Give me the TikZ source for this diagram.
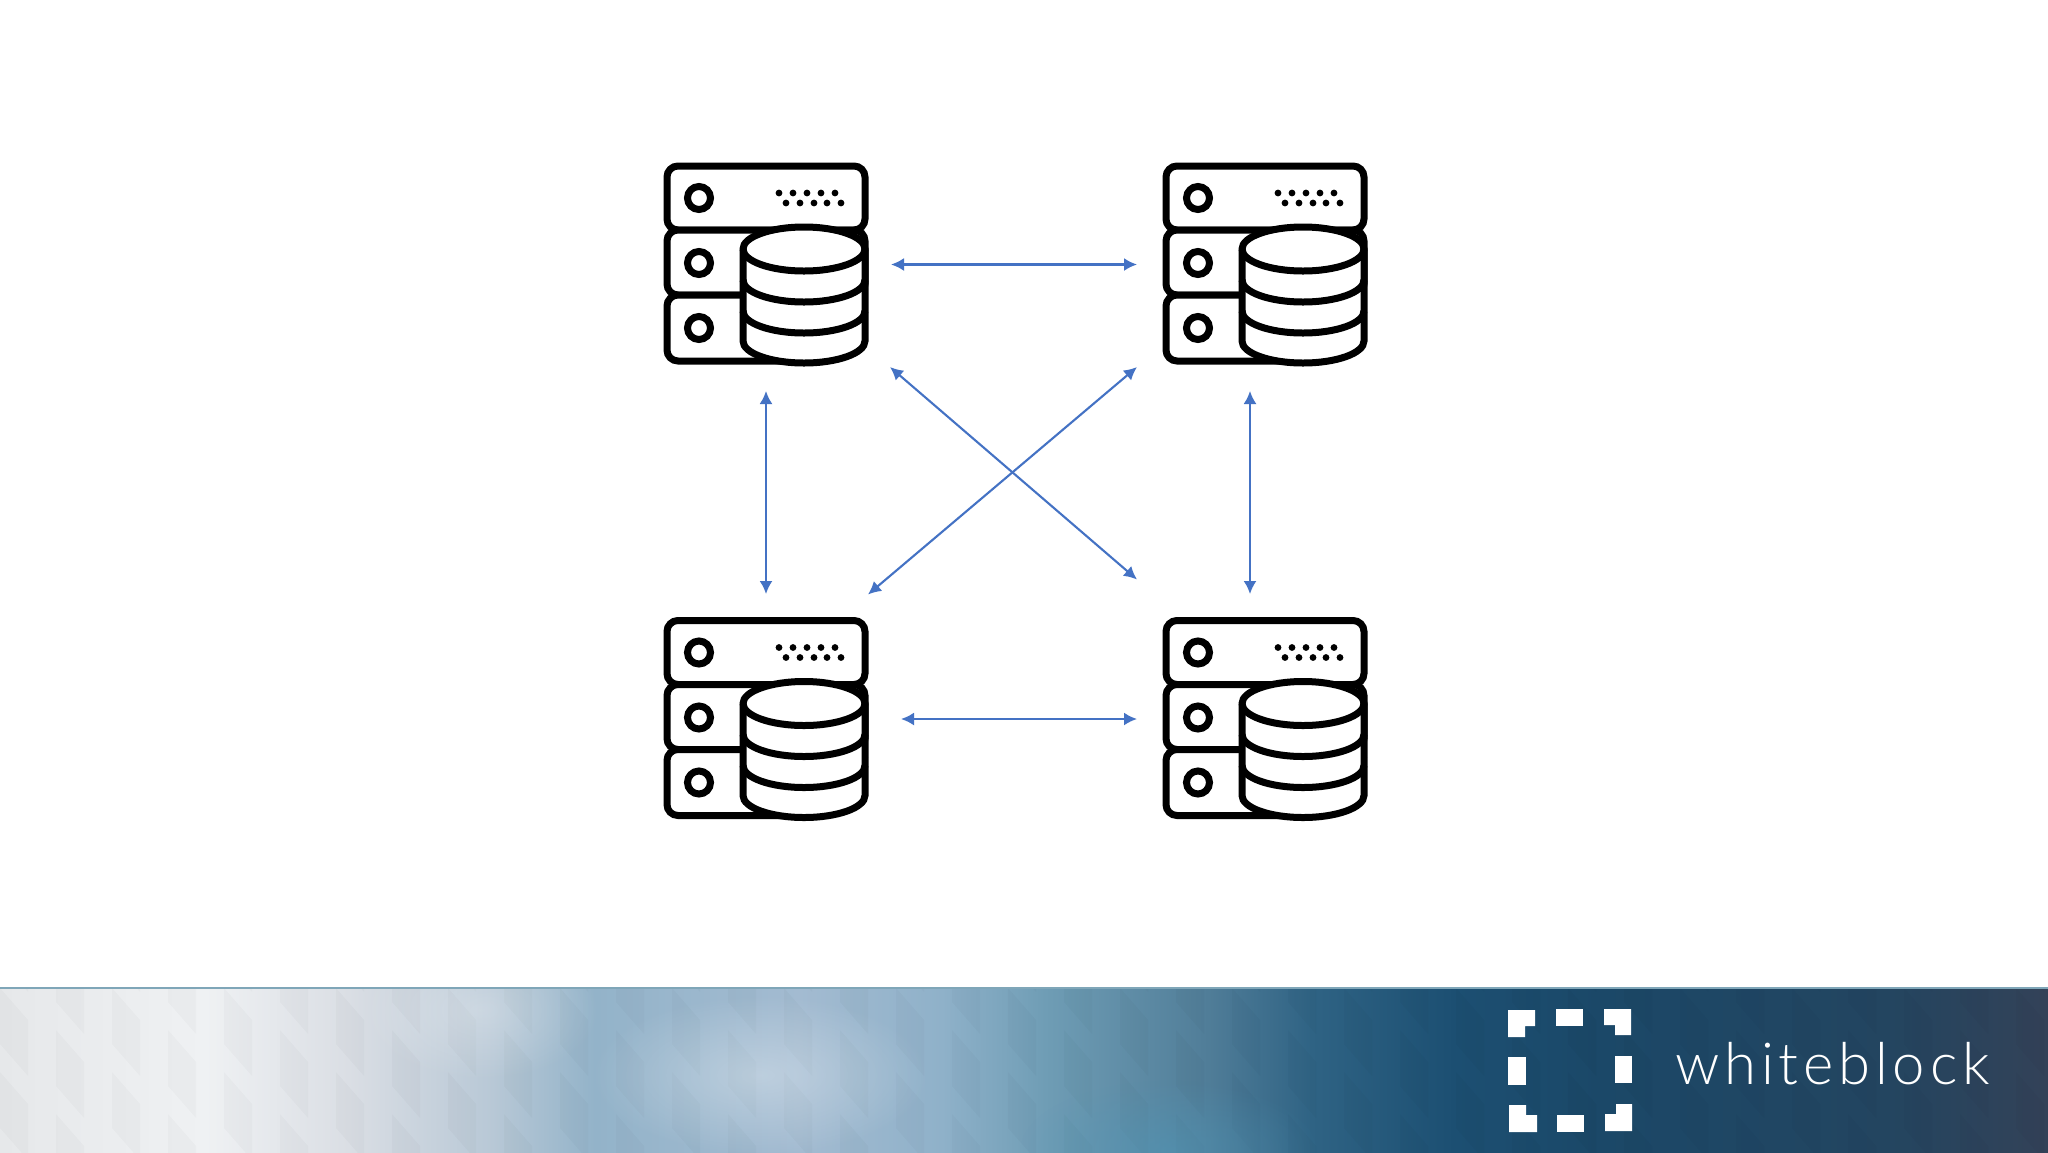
\documentclass[tikz,border=0pt]{standalone}
\usepackage{fontspec}
\usepackage{tikz}
\usetikzlibrary{arrows.meta,fadings,positioning}
\newfontfamily\logofont[LetterSpace=8.3]{Lato Light}
\definecolor{linkblue}{HTML}{4472C4}
\definecolor{bannerteal}{HTML}{4F97B8}
\definecolor{bannerline}{HTML}{7FA6B8}
\definecolor{bandA}{HTML}{E6E8EA}
\definecolor{bandB}{HTML}{EFF1F3}
\definecolor{bandC}{HTML}{DADEE4}
\definecolor{bandD}{HTML}{B8C8D6}
\definecolor{bandE}{HTML}{93B3C9}
\definecolor{bandF}{HTML}{A3BBD1}
\definecolor{bandG}{HTML}{8FB1C9}
\definecolor{bandH}{HTML}{6F9DB5}
\definecolor{bandI}{HTML}{507D98}
\definecolor{bandJ}{HTML}{2F6384}
\definecolor{bandK}{HTML}{1C4F72}
\definecolor{bandL}{HTML}{1B4868}
\definecolor{bandM}{HTML}{234560}
\definecolor{bandN}{HTML}{334258}
\tikzfading[name=softblob,inner color=transparent!0,outer color=transparent!100]
\tikzset{
  rackline/.style={line width=7pt,draw=black,fill=white},
  serverbox/.style={minimum width=204pt,minimum height=203pt,inner sep=0pt,outer sep=0pt},
  link/.style={linkblue,line width=2.1pt,{Latex[length=13pt,width=13pt]}-{Latex[length=13pt,width=13pt]}},
  logopiece/.style={fill=white},
  rack/.pic={
    \foreach \ya/\yb in {3/67,67/132,132/198}
      \draw[rackline,rounded corners=11pt] (3,\ya) rectangle (201,\yb);
    \fill[white] (120,140) rectangle (207,205);
    \foreach \yc in {35,100,165}
      \draw[rackline] (35,\yc) circle (11.5pt);
    \foreach \xa in {115,129,143,157,171}
      \fill (\xa,30) circle (3.4pt);
    \foreach \xb in {122,136,150,163,177}
      \fill (\xb,40) circle (3.4pt);
    \draw[rackline] (79,86) -- (79,178) arc[start angle=180,end angle=360,x radius=61pt,y radius=22pt]
      -- (201,86) arc[start angle=0,end angle=180,x radius=61pt,y radius=22pt] -- cycle;
    \foreach \yd in {86,117,148}
      \draw[rackline,fill=none] (79,\yd) arc[start angle=180,end angle=360,x radius=61pt,y radius=22pt];
  }
}
\begin{document}
\begin{tikzpicture}[x=1pt,y=-1pt]
    \useasboundingbox (0,0) rectangle (2048,1152);
    \fill[white] (0,0) rectangle (2048,1152);

    % banner
    \foreach \xa/\xb/\ca/\cb in {0/205/bandA/bandB,205/348/bandB/bandC,348/492/bandC/bandD,492/594/bandD/bandE,
        594/799/bandE/bandF,799/942/bandF/bandG,942/1045/bandG/bandH,1045/1208/bandH/bandI,1208/1311/bandI/bandJ,
        1311/1454/bandJ/bandK,1454/1597/bandK/bandL,1597/1884/bandL/bandM,1884/2048/bandM/bandN}
        \shade[left color=\ca,right color=\cb] (\xa,988) rectangle (\xb+.5,1152);
    \begin{scope}
        \clip (0,988) rectangle (2048,1152);
        \foreach \col in {0,...,36} {
            \pgfmathsetmacro{\xf}{\col*56}
            \pgfmathsetmacro{\yf}{mod(\col,2)*42}
            \foreach \row in {-1,0,1,2} {
                \fill[black,opacity=.02] (\xf,988+\yf+\row*84) -- ++(28,32) -- ++(0,56) -- ++(-28,-32) -- cycle;
            }
        }
        \fill[white,opacity=.3,path fading=softblob] (760,1075) ellipse (170pt and 80pt);
        \fill[white,opacity=.25,path fading=softblob] (480,1010) ellipse (120pt and 70pt);
        \fill[bannerteal,opacity=.5,path fading=softblob] (1170,1150) ellipse (150pt and 70pt);
    \end{scope}
    \fill[bannerline] (0,987) rectangle (2048,989);

    % logo
    \fill[logopiece] (1508,1010) -- (1535,1010) -- (1535,1026) -- (1525,1026) -- (1525,1037) -- (1508,1037) -- cycle;
    \fill[logopiece] (1556,1009) rectangle (1583,1026);
    \fill[logopiece] (1604,1009) -- (1631,1009) -- (1631,1035) -- (1615,1035) -- (1615,1025) -- (1604,1025) -- cycle;
    \fill[logopiece] (1508,1057) rectangle (1526,1085);
    \fill[logopiece] (1615,1056) rectangle (1632,1083);
    \fill[logopiece] (1509,1105) -- (1526,1105) -- (1526,1115) -- (1537,1115) -- (1537,1132) -- (1509,1132) -- cycle;
    \fill[logopiece] (1557,1115) rectangle (1584,1132);
    \fill[logopiece] (1616,1104) -- (1632,1104) -- (1632,1131) -- (1605,1131) -- (1605,1114) -- (1616,1114) -- cycle;
    \node[white,anchor=base west,inner sep=0pt,font=\logofont\fontsize{58}{60}\selectfont] (logotext) at (1675,1084) {whiteblock};

    % servers
    \node[serverbox] (srvNW) at (766,264.5) {};
    \node[serverbox,right=295pt of srvNW] (srvNE) {};
    \node[serverbox,below=251.5pt of srvNW] (srvSW) {};
    \node[serverbox,right=295pt of srvSW] (srvSE) {};
    \foreach \srv in {srvNW,srvNE,srvSW,srvSE}
        \pic at (\srv.north west) {rack};

    % links
    \draw[link] ([xshift=23pt]srvNW.east) -- ([xshift=-26pt]srvNE.west);
    \draw[link] ([xshift=33pt]srvSW.east) -- ([xshift=-26pt]srvSE.west);
    \draw[link] ([yshift=-25pt]srvNW.south) -- ([yshift=23.5pt]srvSW.north);
    \draw[link] ([xshift=-15pt,yshift=-25pt]srvNE.south) -- ([xshift=-15pt,yshift=23.5pt]srvSE.north);
    \draw[link] ([xshift=22pt,yshift=-1pt]srvNW.south east) -- ([xshift=-26pt,yshift=38pt]srvSE.north west);
    \draw[link] ([xshift=-26pt,yshift=-1pt]srvNE.south west) -- ([yshift=23pt]srvSW.north east);
\end{tikzpicture}
\end{document}
